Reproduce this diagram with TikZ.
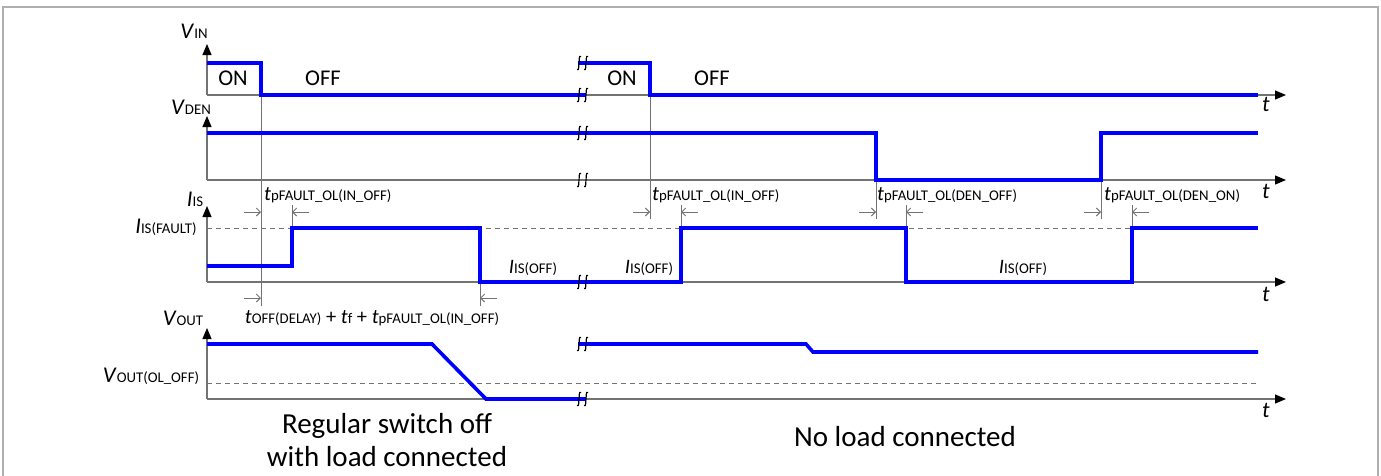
\documentclass[tikz,border=0pt]{standalone}
\usepackage{fontspec}
\setmainfont{Carlito}
\usetikzlibrary{arrows.meta}

\definecolor{sigblue}{RGB}{0,0,255}
\definecolor{axisgray}{RGB}{115,115,115}
\definecolor{framegray}{RGB}{175,175,175}

% signal name: italic letter + small upright index on the same baseline
\newcommand{\sig}[2]{\textit{#1}{\fontsize{14.8}{15}\selectfont #2}}

\begin{document}
\begin{tikzpicture}[
    x=1pt, y=-1pt,
    axis/.style={draw=axisgray, line width=1.2pt, -{Triangle[length=11pt, width=9pt, color=black]}},
    guide/.style={draw=axisgray, line width=0.9pt},
    dim/.style={draw=axisgray, line width=0.9pt, -{Straight Barb[length=4pt, width=8pt]}},
    level/.style={draw=axisgray, line width=0.9pt, dash pattern=on 5pt off 4pt},
    wave/.style={draw=sigblue, line width=3.6pt, line join=miter},
    brk/.style={draw=black, line width=1.1pt},
    lbl/.style={font=\fontsize{22.5}{26}\selectfont, inner sep=0pt},
    small/.style={font=\fontsize{20.5}{24}\selectfont, inner sep=0pt},
    state/.style={font=\fontsize{22.5}{26}\selectfont, inner sep=0pt},
    caption/.style={font=\fontsize{29}{33}\selectfont, inner sep=0pt, align=center}
]
\useasboundingbox (0,0) rectangle (1381,475);
\clip (0,0) rectangle (1381,475);

% outer frame
\draw[framegray, line width=1.4pt] (3,7) rectangle (1378,500);

% reference levels first (bottom layer)
\draw[level] (207,228) -- (1258,228);
\draw[level] (207,383) -- (1258,383);

% timing guides
\draw[guide] (261,95) -- (261,306);
\draw[guide] (292,205) -- (292,228);
\draw[guide] (480,282) -- (480,306);
\draw[guide] (650,95) -- (650,219);
\draw[guide] (681,205) -- (681,228);
\draw[guide] (876,180) -- (876,219);
\draw[guide] (906,205) -- (906,228);
\draw[guide] (1101,180) -- (1101,219);
\draw[guide] (1132,205) -- (1132,228);

% propagation time arrows
\foreach \xa/\xb in {261/292, 650/681, 876/906, 1101/1132}{
  \draw[dim] (\xa-17,212) -- (\xa,212);
  \draw[dim] (\xb+17,212) -- (\xb,212);
}
\draw[dim] (244,298) -- (261,298);
\draw[dim] (497,298) -- (480,298);

% axes
\draw[axis] (207,95) -- (207,44);
\draw[axis] (207,95) -- (1286,95);
\draw[axis] (207,180) -- (207,116);
\draw[axis] (207,180) -- (1286,180);
\draw[axis] (207,282) -- (207,206);
\draw[axis] (207,282) -- (1286,282);
\draw[axis] (207,399) -- (207,328);
\draw[axis] (207,399) -- (1286,399);

% waveforms
\draw[wave] (207,63) -- (261,63) -- (261,95) -- (586,95);
\draw[wave] (578,63) -- (650,63) -- (650,95) -- (1258,95);
\draw[wave] (207,133) -- (876,133) -- (876,180) -- (1101,180) -- (1101,133) -- (1258,133);
\draw[wave] (207,266) -- (292,266) -- (292,228) -- (480,228) -- (480,282) -- (586,282);
\draw[wave] (578,282) -- (681,282) -- (681,228) -- (906,228) -- (906,282) -- (1132,282) -- (1132,228) -- (1258,228);
\draw[wave] (207,344) -- (432,344) -- (486,399) -- (586,399);
\draw[wave] (578,344) -- (806,344) -- (813,352) -- (1258,352);

% time axis breaks
\foreach \yy in {63,95,133,180,282,344,399}{
  \foreach \xx in {579,586}
    \draw[brk] (\xx+2,\yy-6.5) .. controls (\xx-0.5,\yy-8) and (\xx+0.6,\yy-2.5) .. (\xx,\yy)
               .. controls (\xx-0.6,\yy+2.5) and (\xx+0.5,\yy+8) .. (\xx-2,\yy+6.5);
}

% axis names
\node[lbl] (vin) at (194,31) {\sig{V}{IN}};
\node[lbl] (vden) at (191,107) {\sig{V}{DEN}};
\node[lbl] (iis) at (195,199) {\sig{I}{IS}};
\node[lbl] (iisf) at (166,227) {\sig{I}{IS(FAULT)}};
\node[lbl] (vout) at (183,318) {\sig{V}{OUT}};
\node[lbl] (voutol) at (151,376) {\sig{V}{OUT(OL\_OFF)}};
\foreach \yy/\nm in {104/tin, 191/tden, 294/tis, 410/tout}
  \node[lbl] (\nm) at (1266,\yy) {\textit{t}};

% input states
\node[state] (on1) at (233,78) {ON};
\node[state] (off1) at (323,78) {OFF};
\node[state] (on2) at (622,78) {ON};
\node[state] (off2) at (712,78) {OFF};

% delay times
\node[small, anchor=west] (tp1) at (264,195) {\textit{t}\sig{}{pFAULT\_OL(IN\_OFF)}};
\node[small, anchor=west] (tp2) at (652,195) {\textit{t}\sig{}{pFAULT\_OL(IN\_OFF)}};
\node[small, anchor=west] (tp3) at (877,195) {\textit{t}\sig{}{pFAULT\_OL(DEN\_OFF)}};
\node[small, anchor=west] (tp4) at (1104,195) {\textit{t}\sig{}{pFAULT\_OL(DEN\_ON)}};
\node[small] (tsum) at (372,318) {\textit{t}\sig{}{OFF(DELAY)} + \textit{t}\sig{}{f} + \textit{t}\sig{}{pFAULT\_OL(IN\_OFF)}};

% sense current when off
\node[small] (isoff1) at (533,268) {\sig{I}{IS(OFF)}};
\node[small] (isoff2) at (649,268) {\sig{I}{IS(OFF)}};
\node[small] (isoff3) at (1023,268) {\sig{I}{IS(OFF)}};

% case captions
\node[caption] (cap1) at (387,440) {Regular switch off\\with load connected};
\node[caption] (cap2) at (905,437) {No load connected};

\end{tikzpicture}
\end{document}
